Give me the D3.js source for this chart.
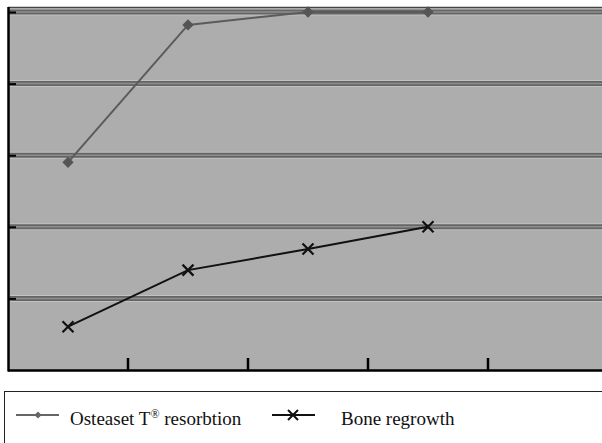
<!DOCTYPE html>
<html>
<head>
<meta charset="utf-8">
<script src="https://cdn.jsdelivr.net/npm/d3@7"></script>
<style>
  body { margin: 0; background: #fff; }
  svg { display: block; }
</style>
</head>
<body>
<script>
// chart data
var categories = ["1", "2", "3", "4", "5"];
var osteaset = [58, 96.4, 100, 100];
var boneRegrowth = [12.1, 27.9, 33.8, 40];
var yTicks = [20, 40, 60, 80, 100];
var seriesNames = ["Osteaset T\u00AE resorbtion", "Bone regrowth"];

var w = 602, h = 443;
var plotLeft = 8, plotTop = 7, plotBottom = 370, plotRight = 608;

var svg = d3.select("body").append("svg")
    .attr("width", w)
    .attr("height", h);

var x = d3.scaleBand().domain(categories).range([plotLeft, plotRight]);
var y = d3.scaleLinear().domain([0, 100]).range([plotBottom, 12]);

// plot area
svg.append("rect")
    .attr("x", plotLeft).attr("y", plotTop)
    .attr("width", plotRight - plotLeft).attr("height", plotBottom - plotTop)
    .style("fill", "#adadad");

svg.append("line")
    .attr("x1", plotLeft).attr("x2", plotRight)
    .attr("y1", plotTop + 0.5).attr("y2", plotTop + 0.5)
    .style("stroke", "#444").style("stroke-width", 1.5);

// gridlines drawn as a double band
var grid = svg.append("g").attr("class", "grid");
[[7, "#c2c2c2"], [5, "#656565"], [1.5, "#8e8e8e"]].forEach(function(s) {
    grid.selectAll(null)
        .data(yTicks)
        .enter()
        .append("line")
        .attr("x1", plotLeft).attr("x2", plotRight)
        .attr("y1", function(d) { return y(d); })
        .attr("y2", function(d) { return y(d); })
        .style("stroke", s[1])
        .style("stroke-width", s[0]);
});

// y axis, ticks inward
var yAxis = svg.append("g")
    .attr("transform", "translate(" + (plotLeft + 1) + ",0)")
    .call(d3.axisLeft(y).tickValues(yTicks).tickSize(-7).tickFormat(""));
yAxis.select(".domain").remove();
yAxis.selectAll(".tick line").style("stroke", "#000").style("stroke-width", 2);
svg.append("line")
    .attr("x1", plotLeft + 0.5).attr("x2", plotLeft + 0.5)
    .attr("y1", plotTop).attr("y2", plotBottom + 1.5)
    .style("stroke", "#000").style("stroke-width", 2.5);

// x axis, tick marks between categories
var xAxis = svg.append("g")
    .attr("transform", "translate(0," + plotBottom + ")")
    .call(d3.axisBottom(x).tickSize(-12).tickFormat(""));
xAxis.select(".domain").remove();
xAxis.selectAll(".tick").attr("transform", function(d) {
    return "translate(" + (x(d) + x.bandwidth()) + ",0)";
});
xAxis.selectAll(".tick line").style("stroke", "#000").style("stroke-width", 2.5);
svg.append("line")
    .attr("x1", plotLeft).attr("x2", plotRight)
    .attr("y1", plotBottom + 0.5).attr("y2", plotBottom + 0.5)
    .style("stroke", "#000").style("stroke-width", 2.5);

var cx = function(d, i) { return x(categories[i]) + x.bandwidth() / 2; };
var line = d3.line().x(cx).y(function(d) { return y(d); });

// rounder diamond: a square turned 45 degrees
var diamond = d3.symbol().type(d3.symbolSquare).size(64);

function crossPath(s) {
    return "M" + (-s) + "," + (-s) + "L" + s + "," + s + "M" + (-s) + "," + s + "L" + s + "," + (-s);
}

// osteaset series
svg.append("path")
    .datum(osteaset)
    .attr("d", line)
    .style("fill", "none").style("stroke", "#5b5b5b").style("stroke-width", 2);
svg.selectAll(".ost")
    .data(osteaset)
    .enter()
    .append("path")
    .attr("class", "ost")
    .attr("d", diamond)
    .attr("transform", function(d, i) { return "translate(" + cx(d, i) + "," + y(d) + ") rotate(45)"; })
    .style("fill", "#555");

// bone regrowth series
svg.append("path")
    .datum(boneRegrowth)
    .attr("d", line)
    .style("fill", "none").style("stroke", "#111").style("stroke-width", 2);
svg.selectAll(".bone")
    .data(boneRegrowth)
    .enter()
    .append("path")
    .attr("class", "bone")
    .attr("d", crossPath(5.5))
    .attr("transform", function(d, i) { return "translate(" + cx(d, i) + "," + y(d) + ")"; })
    .style("fill", "none").style("stroke", "#111").style("stroke-width", 2.2);

// legend
var legend = svg.append("g");
legend.append("rect")
    .attr("x", 4.5).attr("y", 391.5)
    .attr("width", 620).attr("height", 80)
    .style("fill", "#fff").style("stroke", "#222").style("stroke-width", 1);

var ly = 415;
legend.append("line")
    .attr("x1", 16).attr("x2", 59).attr("y1", ly).attr("y2", ly)
    .style("stroke", "#666").style("stroke-width", 2);
legend.append("path")
    .attr("d", d3.symbol().type(d3.symbolSquare).size(26))
    .attr("transform", "translate(38," + ly + ") rotate(45)")
    .style("fill", "#666");
legend.append("text")
    .attr("x", 70).attr("y", 425)
    .style("font-family", "'Liberation Serif', serif")
    .style("font-size", "19px")
    .style("fill", "#111")
    .text("Osteaset T")
    .append("tspan")
    .attr("dy", -7).style("font-size", "12px")
    .text("\u00AE");
legend.select("text").append("tspan")
    .attr("dy", 7)
    .text(" resorbtion");

legend.append("line")
    .attr("x1", 272).attr("x2", 315).attr("y1", ly).attr("y2", ly)
    .style("stroke", "#111").style("stroke-width", 2);
legend.append("path")
    .attr("d", crossPath(5))
    .attr("transform", "translate(293," + ly + ")")
    .style("fill", "none").style("stroke", "#111").style("stroke-width", 2);
legend.append("text")
    .attr("x", 341).attr("y", 425)
    .style("font-family", "'Liberation Serif', serif")
    .style("font-size", "19px")
    .style("fill", "#111")
    .text(seriesNames[1]);
</script>
</body>
</html>
